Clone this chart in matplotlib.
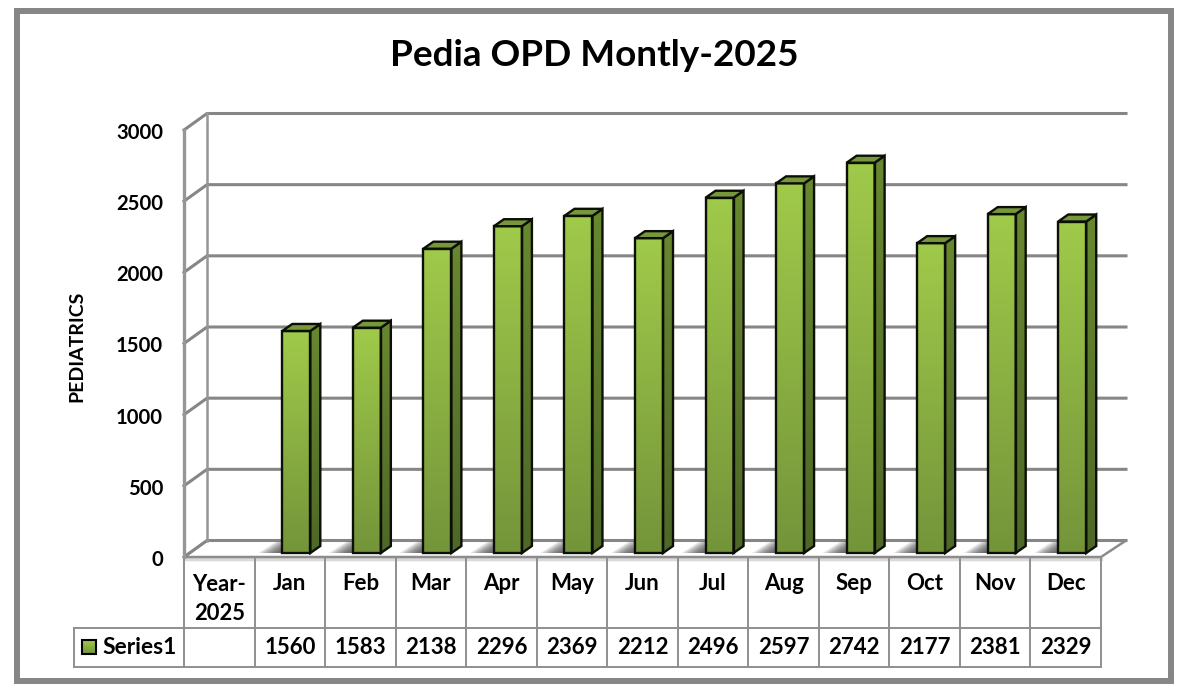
import numpy as np
import matplotlib
matplotlib.use("Agg")
import matplotlib.pyplot as plt
from matplotlib.colors import LinearSegmentedColormap
from matplotlib.patches import Polygon, Rectangle

months = ["Jan", "Feb", "Mar", "Apr", "May", "Jun", "Jul", "Aug", "Sep", "Oct", "Nov", "Dec"]
values = [1560, 1583, 2138, 2296, 2369, 2212, 2496, 2597, 2742, 2177, 2381, 2329]
y_ticks = [0, 500, 1000, 1500, 2000, 2500, 3000]
first_col = ["Year-\n2025"]
series_name = "Series1"
title = "Pedia OPD Montly-2025"
y_title = "PEDIATRICS"

W, H = 1188, 692
GREY = "#868686"
FONT = ["Lato", "DejaVu Sans"]

# chart plane in pixels
LEFT, RIGHT, TOP, BOTTOM = 184, 1101, 130, 557
plt.rcParams["font.family"] = FONT
plt.rcParams["font.weight"] = "bold"

face_cmap = LinearSegmentedColormap.from_list("face", ["#a0ca4a", "#74943a"])
side_cmap = LinearSegmentedColormap.from_list("side", ["#68882f", "#4d6827"])
grad = np.linspace(0, 1, 128).reshape(-1, 1)

fig = plt.figure(figsize=(W / 100, H / 100), dpi=100, facecolor="white")

# page layer: frame, table and texts, in pixels
page = fig.add_axes([0, 0, 1, 1])
page.set_xlim(0, W)
page.set_ylim(H, 0)
page.axis("off")

ax = fig.add_axes([LEFT / W, (H - BOTTOM) / H, (RIGHT - LEFT) / W, (BOTTOM - TOP) / H])
ax.set_xlim(-0.5, 12.5)
ax.set_ylim(0, 3000)
ax.axis("off")
ax.patch.set_visible(False)

px_x = 1 / ((RIGHT - LEFT) / 13)
px_y = 3000 / (BOTTOM - TOP)

page.add_patch(Rectangle((17, 11), 1154, 670, fill=False, ec=GREY, lw=4.3))

# walls, gridlines and floor
back_dx, back_dy = 23 * px_x, 16.5 * px_y
x0, x1 = -0.5, 12.5
floor = Polygon([(x0, 0), (x0 + back_dx, back_dy), (x1 + 25 * px_x, back_dy), (x1, 0)],
                closed=True, fc="white", ec="#8c8c8c", lw=1.8, clip_on=False, zorder=1)
ax.add_patch(floor)
for t in y_ticks:
    ax.plot([x0, x0 + back_dx, x1 + 25 * px_x], [t, t + back_dy, t + back_dy],
            color=GREY, lw=2.2, clip_on=False, zorder=1, solid_joinstyle="miter")
ax.plot([x0, x0], [0, 3000], color="#969696", lw=2.4, clip_on=False, zorder=1)
ax.plot([x0 + back_dx] * 2, [back_dy, 3000 + back_dy], color="#969696", lw=1.8, clip_on=False, zorder=1)

# bars
bar_w = 28 * px_x
shift = 6.5 * px_x
base = 4 * px_y
dx, dy = 10 * px_x, 7 * px_y
for i, v in enumerate(values):
    pos = i + 1 + shift
    left, right = pos - bar_w / 2, pos + bar_w / 2
    top = v

    # soft shadow on the floor
    for k in np.linspace(1, 0.05, 14):
        reach = 24 * px_x * k
        ax.add_patch(Polygon([(left - reach, base), (left - reach + 18 * px_x, back_dy - 1 * px_y),
                              (right + dx, back_dy - 1 * px_y), (right, base)],
                             closed=True, fc="#404040", ec="none", alpha=0.11, clip_on=False, zorder=2))

    ax.imshow(grad, cmap=face_cmap, aspect="auto", extent=(left, right, base, base + top), zorder=4, clip_on=False)
    ax.add_patch(Rectangle((left, base), bar_w, top, fill=False, ec="#0c0f06", lw=1.7, clip_on=False, zorder=5))

    side_pts = [(right, base), (right + dx, base + dy), (right + dx, base + top + dy), (right, base + top)]
    side_clip = Polygon(side_pts, closed=True, transform=ax.transData)
    img = ax.imshow(grad, cmap=side_cmap, aspect="auto", zorder=4,
                    extent=(right, right + dx, base, base + top + dy))
    img.set_clip_path(side_clip)
    ax.add_patch(Polygon(side_pts, closed=True, fill=False, ec="#0c0f06", lw=1.7, clip_on=False, zorder=5))

    ax.add_patch(Polygon([(left, base + top), (left + dx, base + top + dy), (right + dx, base + top + dy), (right, base + top)],
                         closed=True, fc="#76983a", ec="#0c0f06", lw=1.7, clip_on=False, zorder=5))
ax.set_xlim(-0.5, 12.5)
ax.set_ylim(0, 3000)

# y tick labels
for t in y_ticks:
    ax.annotate(str(t), (x0, t), xytext=(-21, -3), textcoords="offset pixels", ha="right", va="center",
                fontsize=14.6, color="black", annotation_clip=False)

# data table
col_w = (RIGHT - LEFT) / 13
row_mid, row_bot = 628, 667
table_kw = dict(color="#8f8f8f", lw=1.4, zorder=3)
page.plot([LEFT, RIGHT], [558.5, 558.5], color="#d9d9d9", lw=2.5, zorder=2)
page.plot([74, RIGHT], [row_mid, row_mid], **table_kw)
page.plot([74, RIGHT], [row_bot, row_bot], **table_kw)
page.plot([74, 74], [row_mid, row_bot], **table_kw)
for c in range(14):
    xp = LEFT + c * col_w
    page.plot([xp, xp], [BOTTOM, row_bot], **table_kw)

page.text(LEFT + col_w / 2, 599, first_col[0], ha="center", va="center", fontsize=15.8, linespacing=1.42, color="black")
for i, (m, v) in enumerate(zip(months, values)):
    xc = LEFT + (i + 1.5) * col_w
    page.text(xc, 584, m, ha="center", va="center", fontsize=16, color="black")
    page.text(xc, 648, str(v), ha="center", va="center", fontsize=16, color="black")

# legend key
page.imshow(grad, cmap=face_cmap, aspect="auto", extent=(82, 96, 654, 640), zorder=4)
page.add_patch(Rectangle((82, 640), 14, 14, fill=False, ec="black", lw=1.5, zorder=5))
page.set_xlim(0, W)
page.set_ylim(H, 0)
page.text(102, 648, series_name, ha="left", va="center", fontsize=16.4, color="black")

page.text(594, 55, title, ha="center", va="center", fontsize=26.6, color="black")
page.text(77, 346, y_title, rotation=90, ha="center", va="center", fontsize=14, color="black")

fig.savefig("out.png", dpi=100, facecolor="white")
